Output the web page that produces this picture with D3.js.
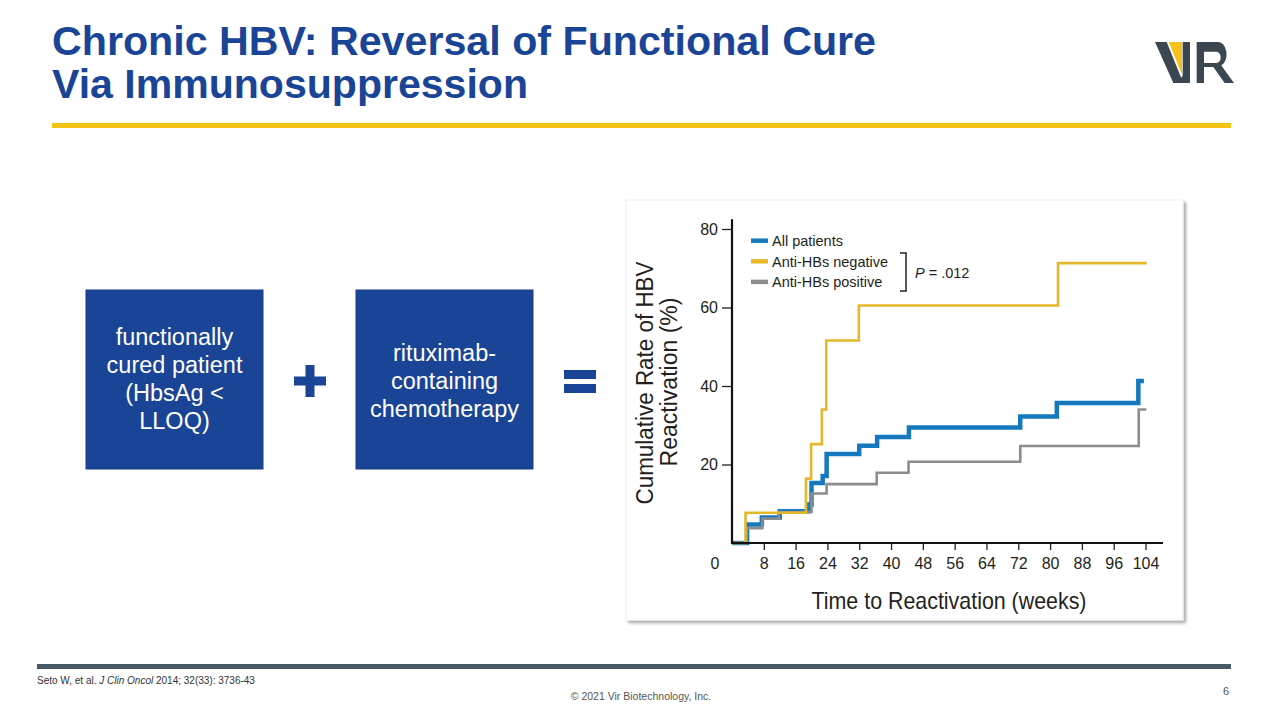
<!DOCTYPE html>
<html>
<head>
<meta charset="utf-8">
<script src="https://cdn.jsdelivr.net/npm/d3@7"></script>
<style>
  body { margin: 0; background: #fff; }
  svg { display: block; }
</style>
</head>
<body>
<script>
// données (Seto et al. 2014)
const xTicks = [8, 16, 24, 32, 40, 48, 56, 64, 72, 80, 88, 96, 104];
const yTicks = [20, 40, 60, 80];
const legendLabels = ["All patients", "Anti-HBs negative", "Anti-HBs positive"];

// All patients
const allWeeks  = [0, 3.8, 7.5, 12.0, 19.3, 20.0, 22.8, 23.8, 32.0, 36.5, 44.5, 72.5, 81.7, 102.2, 103.6];
const allRates  = [0, 4.7, 6.5, 8.1, 9.8, 15.3, 17.1, 22.7, 24.8, 27.0, 29.4, 32.2, 35.7, 41.3, 41.3];
// Anti-HBs negative
const negWeeks  = [0, 3.4, 18.6, 19.9, 22.6, 23.7, 31.9, 82.0, 104.3];
const negRates  = [0, 7.7, 16.4, 25.2, 34.0, 51.6, 60.5, 71.3, 71.3];
// Anti-HBs positive
const posWeeks  = [0, 3.7, 7.6, 11.8, 20.0, 23.8, 36.4, 44.4, 72.5, 102.3, 104.2];
const posRates  = [0, 3.8, 6.2, 7.9, 12.6, 15.0, 17.9, 20.7, 24.7, 34.0, 34.0];

const blue = "#1479bf", gold = "#e5b82c", grey = "#8b8c8e", navy = "#1a4496";

const svg = d3.select("body").append("svg").attr("width", 1280).attr("height", 720);

// ---- titre
const title = svg.append("text").attr("font-family", "Liberation Sans, Arial, sans-serif")
  .attr("font-weight", "bold").attr("font-size", 41).attr("fill", navy);
title.append("tspan").attr("x", 52).attr("y", 55).attr("textLength", 824).attr("lengthAdjust", "spacingAndGlyphs")
  .text("Chronic HBV: Reversal of Functional Cure");
title.append("tspan").attr("x", 52).attr("y", 98).attr("textLength", 476).attr("lengthAdjust", "spacingAndGlyphs")
  .text("Via Immunosuppression");

svg.append("rect").attr("x", 52).attr("y", 123).attr("width", 1179).attr("height", 5).attr("fill", "#f4c414");

// ---- logo VIR
const logo = svg.append("g").attr("transform", "translate(1140,42) scale(0.3333,0.5125) translate(0,-38)");
logo.append("path").attr("d", "M45,38 H80 L130,118 H100 Z").attr("fill", "#3b4650");
logo.append("path").attr("d", "M86,38 H126 V102 Z").attr("fill", "#f6c21a");
logo.append("path").attr("d", "M128,38 H150 V118 H112 L128,104 Z").attr("fill", "#3b4650");
logo.append("path").attr("fill-rule", "evenodd").attr("fill", "#3b4650")
  .attr("d", "M170,38 H232 A26 24 0 0 1 244 84 L282 118 H254 L220 87 H192 V118 H170 Z M192,57 H230 A12 11 0 0 1 230 79 H192 Z");

// ---- boîtes
const boxes = [
  {x: 86, lines: ["functionally", "cured patient", "(HbsAg <", "LLOQ)"], c: 379},
  {x: 356, lines: ["rituximab-", "containing", "chemotherapy"], c: 381}
];
boxes.forEach(b => {
  svg.append("rect").attr("x", b.x).attr("y", 290).attr("width", 177).attr("height", 179)
    .attr("fill", navy).attr("stroke", "#1d3b85").attr("stroke-width", 1);
  const n = b.lines.length;
  svg.selectAll(null).data(b.lines).enter().append("text")
    .attr("x", b.x + 88.5).attr("y", (d, i) => b.c + (i - (n - 1) / 2) * 28 + 8.4)
    .attr("text-anchor", "middle").attr("font-family", "Liberation Sans, Arial, sans-serif")
    .attr("font-size", 23.5).attr("fill", "#fff").text(d => d);
});
// + et =
svg.append("rect").attr("x", 294).attr("y", 376.5).attr("width", 32).attr("height", 9).attr("fill", navy);
svg.append("rect").attr("x", 305.5).attr("y", 365).attr("width", 9).attr("height", 32).attr("fill", navy);
svg.append("rect").attr("x", 564).attr("y", 370).attr("width", 32).attr("height", 9).attr("fill", navy);
svg.append("rect").attr("x", 564).attr("y", 384).attr("width", 32).attr("height", 9).attr("fill", navy);

// ---- panneau du graphique
const defs = svg.append("defs");
const f = defs.append("filter").attr("id", "shadow").attr("x", -0.05).attr("y", -0.05).attr("width", 1.1).attr("height", 1.1);
f.append("feDropShadow").attr("dx", 2.5).attr("dy", 2.5).attr("stdDeviation", 1.5)
  .attr("flood-color", "#000").attr("flood-opacity", 0.35);
svg.append("rect").attr("x", 626).attr("y", 200).attr("width", 557).attr("height", 420)
  .attr("fill", "#fff").attr("stroke", "#f0f0f0").attr("filter", "url(#shadow)");

const x = d3.scaleLinear().domain([0, 104]).range([732, 1145.5]);
const y = d3.scaleLinear().domain([0, 80]).range([543, 229]);
const ink = "#231f20";

const gx = svg.append("g").attr("transform", "translate(0,543)")
  .call(d3.axisBottom(x).tickValues(xTicks).tickSize(7).tickPadding(7.5));
const gy = svg.append("g").attr("transform", "translate(732,0)")
  .call(d3.axisLeft(y).tickValues(yTicks).tickSize(10).tickPadding(4));
[gx, gy].forEach(g => {
  g.select(".domain").remove();
  g.selectAll("line").attr("stroke", ink).attr("stroke-width", 1.3);
  g.selectAll("text").attr("fill", ink).attr("font-size", 16)
    .attr("font-family", "Liberation Sans, Arial, sans-serif");
});
gx.append("text").attr("x", x(0) - 17).attr("y", 26).attr("text-anchor", "middle")
  .attr("fill", ink).attr("font-size", 16).attr("font-family", "Liberation Sans, Arial, sans-serif").text("0");

// courbes en escalier
const line = d3.line().x(d => x(d[0])).y(d => y(d[1])).curve(d3.curveStepAfter);
const series = [
  {w: allWeeks, r: allRates, color: blue, width: 4.5},
  {w: posWeeks, r: posRates, color: grey, width: 2.6},
  {w: negWeeks, r: negRates, color: gold, width: 2.6}
];
series.forEach(s => {
  svg.append("path").datum(d3.zip(s.w, s.r)).attr("d", line)
    .attr("fill", "none").attr("stroke", s.color).attr("stroke-width", s.width);
});

// axes (traits)
svg.append("line").attr("x1", x(0)).attr("x2", x(108.4)).attr("y1", y(0)).attr("y2", y(0))
  .attr("stroke", "#111").attr("stroke-width", 2.2);
svg.append("line").attr("x1", x(0)).attr("x2", x(0)).attr("y1", y(0) + 1).attr("y2", y(82.5))
  .attr("stroke", "#111").attr("stroke-width", 2.2);

// titres des axes
const cond = "Liberation Sans Narrow, Arial Narrow, Liberation Sans, sans-serif";
svg.append("text").attr("x", 949).attr("y", 609).attr("text-anchor", "middle")
  .attr("font-family", cond).attr("font-size", 24).attr("fill", ink)
  .attr("textLength", 275).attr("lengthAdjust", "spacingAndGlyphs").text("Time to Reactivation (weeks)");
const yt = svg.append("text").attr("transform", "rotate(-90)").attr("text-anchor", "middle")
  .attr("font-family", cond).attr("font-size", 23).attr("fill", ink);
yt.append("tspan").attr("x", -383).attr("y", 653).attr("textLength", 243).attr("lengthAdjust", "spacingAndGlyphs")
  .text("Cumulative Rate of HBV");
yt.append("tspan").attr("x", -382).attr("y", 677).attr("textLength", 169).attr("lengthAdjust", "spacingAndGlyphs")
  .text("Reactivation (%)");

// légende
const legColors = [blue, gold, grey];
const leg = svg.selectAll(".leg").data(legendLabels).enter().append("g")
  .attr("transform", (d, i) => `translate(751,${240.7 + i * 20.6})`);
leg.append("line").attr("x1", 0).attr("x2", 17).attr("stroke", (d, i) => legColors[i]).attr("stroke-width", 4.5);
leg.append("text").attr("x", 21).attr("y", 5.2).attr("font-family", "Liberation Sans, Arial, sans-serif")
  .attr("font-size", 14.5).attr("fill", ink).text(d => d);
svg.append("path").attr("d", "M900,253 H906 V291 H900").attr("fill", "none").attr("stroke", ink).attr("stroke-width", 1.5);
const p = svg.append("text").attr("x", 915).attr("y", 278).attr("font-family", "Liberation Sans, Arial, sans-serif")
  .attr("font-size", 14.5).attr("fill", ink);
p.append("tspan").attr("font-style", "italic").text("P");
p.append("tspan").text(" = .012");

// ---- pied de page
svg.append("rect").attr("x", 37).attr("y", 664).attr("width", 1194).attr("height", 5).attr("fill", "#4a5866");
const cite = svg.append("text").attr("x", 37).attr("y", 684).attr("font-family", "Liberation Sans, Arial, sans-serif")
  .attr("font-size", 10).attr("fill", "#333");
cite.append("tspan").text("Seto W, et al. ");
cite.append("tspan").attr("font-style", "italic").text("J Clin Oncol");
cite.append("tspan").text(" 2014; 32(33): 3736-43");
svg.append("text").attr("x", 641).attr("y", 700).attr("text-anchor", "middle")
  .attr("font-family", "Liberation Sans, Arial, sans-serif").attr("font-size", 10.5).attr("fill", "#555")
  .text("© 2021 Vir Biotechnology, Inc.");
svg.append("text").attr("x", 1229).attr("y", 695).attr("text-anchor", "end")
  .attr("font-family", "Liberation Sans, Arial, sans-serif").attr("font-size", 11).attr("fill", "#555").text("6");
</script>
</body>
</html>
